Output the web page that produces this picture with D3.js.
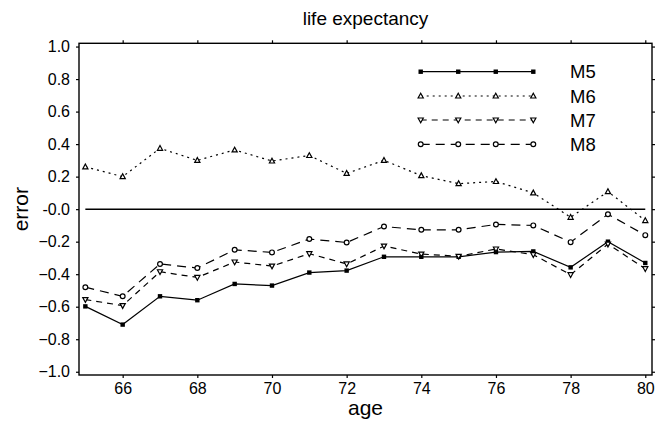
<!DOCTYPE html>
<html><head><meta charset="utf-8">
<script src="https://cdn.jsdelivr.net/npm/d3@7"></script>
<style>body{margin:0;background:#fff}svg{display:block}text{font-family:Arial,"Liberation Sans",Helvetica,sans-serif;fill:#000}</style>
</head><body>
<svg id="chart" width="656" height="423"></svg>
<script>
const ages = [65,66,67,68,69,70,71,72,73,74,75,76,77,78,79,80];
const M5 = [-0.598,-0.71,-0.536,-0.56,-0.46,-0.47,-0.39,-0.378,-0.293,-0.293,-0.293,-0.264,-0.26,-0.358,-0.20,-0.331];
const M6 = [0.26,0.20,0.374,0.30,0.364,0.296,0.33,0.22,0.30,0.206,0.157,0.17,0.10,-0.05,0.108,-0.07];
const M7 = [-0.556,-0.593,-0.385,-0.42,-0.325,-0.35,-0.274,-0.337,-0.227,-0.276,-0.29,-0.245,-0.28,-0.403,-0.215,-0.366];
const M8 = [-0.48,-0.536,-0.337,-0.362,-0.25,-0.266,-0.184,-0.205,-0.107,-0.127,-0.127,-0.094,-0.10,-0.203,-0.031,-0.16];
const seriesNames = ["M5","M6","M7","M8"];
const xTicks = [66,68,70,72,74,76,78,80];
const yTicks = [1.0,0.8,0.6,0.4,0.2,0.0,-0.2,-0.4,-0.6,-0.8,-1.0];

const svg = d3.select("#chart");
const L = 79, R = 652, T = 43.3, B = 375;
const x = d3.scaleLinear().domain([64.83, 80.18]).range([L, R]);
const y = d3.scaleLinear().domain([-1.02, 1.02]).range([B, T]);

const styles = {
  M5: {dash: null, marker: "square"},
  M6: {dash: "2,4", marker: "triUp"},
  M7: {dash: "6,5", marker: "triDown"},
  M8: {dash: "9,6", marker: "circle"}
};
const data = {M5, M6, M7, M8};

function fmt(v){ if (Math.abs(v) < 1e-9) return "-0.0"; return d3.format(".1f")(v); }

// axes
const gB = svg.append("g").attr("transform", `translate(0,${B})`)
  .call(d3.axisBottom(x).tickValues(xTicks).tickSize(3).tickPadding(5).tickFormat(d3.format("d")));
const gT = svg.append("g").attr("transform", `translate(0,${T})`)
  .call(d3.axisTop(x).tickValues(xTicks).tickSize(3).tickFormat(""));
const gL = svg.append("g").attr("transform", `translate(${L},0)`)
  .call(d3.axisLeft(y).tickValues(yTicks).tickSize(3).tickPadding(6).tickFormat(fmt));
const gR = svg.append("g").attr("transform", `translate(${R},0)`)
  .call(d3.axisRight(y).tickValues(yTicks).tickSize(3).tickFormat(""));
[gB,gT,gL,gR].forEach(g => {
  g.selectAll(".domain").remove();
  g.selectAll("line").attr("stroke","#000").attr("stroke-width",1.2);
  g.selectAll("text").style("font-size","16px").attr("fill","#000");
});
svg.append("rect").attr("x",L).attr("y",T).attr("width",R-L).attr("height",B-T)
  .attr("fill","none").attr("stroke","#000").attr("stroke-width",1.4);

// zero line
svg.append("line").attr("x1",x(65)).attr("x2",x(80)).attr("y1",y(0)).attr("y2",y(0))
  .attr("stroke","#000").attr("stroke-width",1.5);

function drawMarker(g, type, cx, cy){
  if (type === "square") {
    g.append("rect").attr("x",cx-2.2).attr("y",cy-2.2).attr("width",4.4).attr("height",4.4).attr("fill","#000");
  } else if (type === "triUp") {
    g.append("path").attr("d",`M${cx},${cy-2.8}L${cx+2.6},${cy+2}L${cx-2.6},${cy+2}Z`)
      .attr("fill","#fff").attr("stroke","#000").attr("stroke-width",1.2);
  } else if (type === "triDown") {
    g.append("path").attr("d",`M${cx},${cy+2.8}L${cx+2.6},${cy-2}L${cx-2.6},${cy-2}Z`)
      .attr("fill","#fff").attr("stroke","#000").attr("stroke-width",1.2);
  } else {
    g.append("circle").attr("cx",cx).attr("cy",cy).attr("r",2.4)
      .attr("fill","#fff").attr("stroke","#000").attr("stroke-width",1.2);
  }
}

const line = d3.line().x(d => x(d[0])).y(d => y(d[1]));
seriesNames.forEach(name => {
  const st = styles[name];
  const pts = ages.map((a,i) => [a, data[name][i]]);
  const g = svg.append("g");
  g.append("path").attr("d", line(pts)).attr("fill","none").attr("stroke","#000")
    .attr("stroke-width",1.2).attr("stroke-dasharray", st.dash);
  pts.forEach(p => drawMarker(g, st.marker, x(p[0]), y(p[1])));
});

// legend
const legY = [71.7, 96, 120, 144.3];
const lx0 = 420.7, lx1 = 533.3;
seriesNames.forEach((name,i) => {
  const st = styles[name];
  const g = svg.append("g");
  g.append("line").attr("x1",lx0).attr("x2",lx1).attr("y1",legY[i]).attr("y2",legY[i])
    .attr("stroke","#000").attr("stroke-width",1.2).attr("stroke-dasharray", st.dash);
  [0,1,2,3].forEach(k => drawMarker(g, st.marker, lx0 + k*(lx1-lx0)/3, legY[i]));
  g.append("text").attr("x",570).attr("y",legY[i]).attr("dy","0.36em")
    .style("font-size","18.5px").text(name);
});

// titles
svg.append("text").attr("x",(L+R)/2).attr("y",18).attr("dy","0.36em").attr("text-anchor","middle")
  .style("font-size","19px").text("life expectancy");
svg.append("text").attr("x",(L+R)/2).attr("y",407).attr("dy","0.36em").attr("text-anchor","middle")
  .style("font-size","21px").text("age");
svg.append("text").attr("transform",`translate(20,${(T+B)/2}) rotate(-90)`).attr("dy","0.36em")
  .attr("text-anchor","middle").style("font-size","21px").text("error");
</script>
</body></html>
